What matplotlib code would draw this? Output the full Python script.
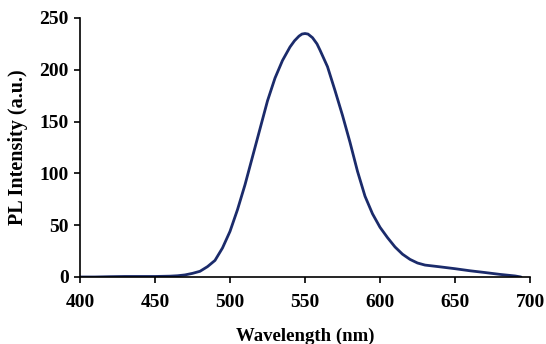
import matplotlib
matplotlib.use("Agg")
import matplotlib.pyplot as plt

wavelength = [400, 410, 420, 430, 440, 450, 460, 465, 470, 475, 480, 485, 490, 495,
              500, 505, 510, 515, 520, 525, 530, 535, 540, 543, 546, 548, 550, 552,
              555, 558, 560, 565, 570, 575, 580, 585, 590, 595, 600, 605, 610, 615,
              620, 625, 630, 640, 650, 660, 670, 680, 690, 694]
intensity = [0, 0, 0.3, 0.5, 0.5, 0.5, 0.8, 1.2, 2, 3.5, 5.5, 10, 16, 28,
             44, 65, 89, 116, 143, 170, 192, 209, 222, 228, 232.5, 234.5, 235, 234.5,
             231, 225, 219, 203, 180, 156, 130, 102, 78, 61, 48, 38, 29, 22,
             17, 13.5, 11.5, 9.8, 8, 6, 4.3, 2.5, 1, 0]
x_ticks = [400, 450, 500, 550, 600, 650, 700]
y_ticks = [0, 50, 100, 150, 200, 250]

plt.rcParams['font.family'] = ['Liberation Serif', 'DejaVu Serif']

fig = plt.figure(figsize=(5.46, 3.44), dpi=100)
ax = fig.add_axes([0.1465, 0.1948, 0.8242, 0.7529])
ax.plot(wavelength, intensity, color='#1b2b6b', lw=2.0,
        solid_capstyle='round', solid_joinstyle='round')
ax.set_xlim(400, 700)
ax.set_ylim(0, 250)
ax.set_xticks(x_ticks)
ax.set_yticks(y_ticks)
for s in ['top', 'right']:
    ax.spines[s].set_visible(False)
for s in ['left', 'bottom']:
    ax.spines[s].set_linewidth(1.2)
ax.tick_params(direction='out', length=4, width=1.2, labelsize=14)
for lab in ax.get_xticklabels() + ax.get_yticklabels():
    lab.set_fontweight('bold')
ax.tick_params(axis='x', pad=8)
ax.tick_params(axis='y', pad=4)
ax.set_xlabel('Wavelength (nm)', fontsize=13.5, fontweight='bold', labelpad=12)
ax.set_ylabel('PL Intensity (a.u.)', fontsize=14.5, fontweight='bold', labelpad=8)
fig.savefig('out.png', dpi=100)
